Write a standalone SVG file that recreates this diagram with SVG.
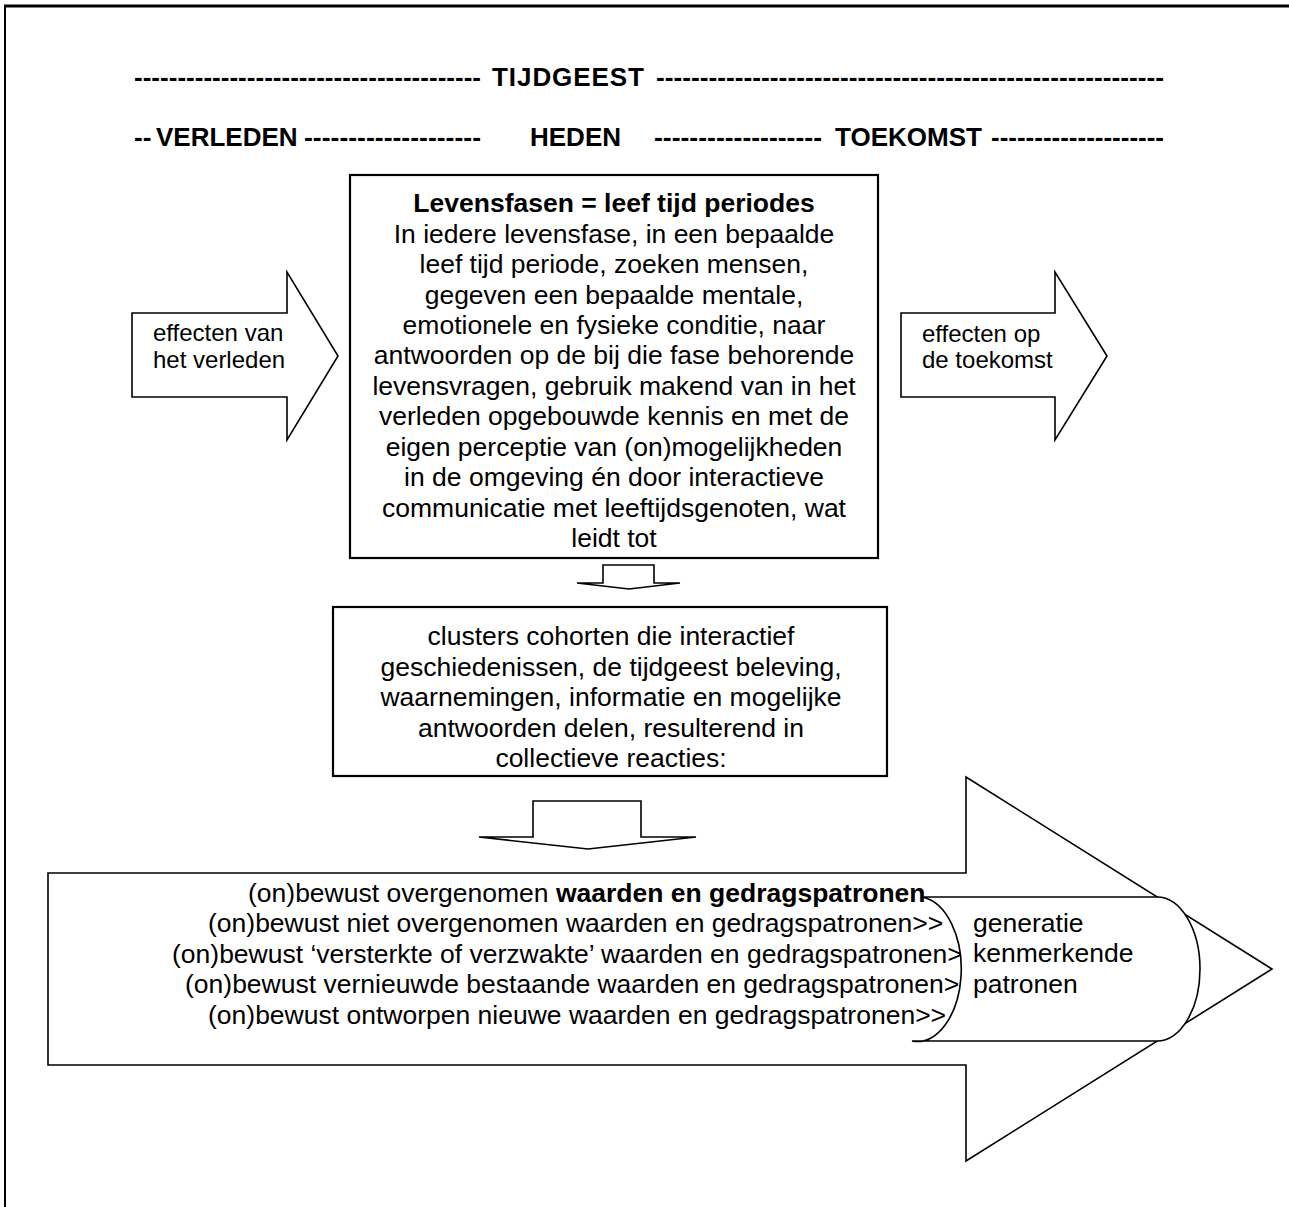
<svg xmlns="http://www.w3.org/2000/svg" width="1289" height="1207" viewBox="0 0 1289 1207">
<style>
text{font-family:"Liberation Sans",Arial,sans-serif;fill:#000}
.hd{font-size:26px;font-weight:bold}
.bd{font-size:26.5px}
.sm{font-size:24px}
.b{font-weight:bold}
.shape{fill:#fff;stroke:#000;stroke-width:1.6;stroke-linejoin:miter}
.box{fill:#fff;stroke:#000;stroke-width:2.2}
.frame{stroke:#000;fill:none}
</style>
<rect width="1289" height="1207" fill="#fff"/>
<g id="frame">
<line class="frame" x1="4" y1="6" x2="1289" y2="6" stroke-width="3"/>
<line class="frame" x1="5" y1="5" x2="5" y2="1207" stroke-width="2"/>
</g>
<g id="header">
<text class="hd" y="86"><tspan x="134" textLength="347" lengthAdjust="spacingAndGlyphs">----------------------------------------</tspan><tspan x="492" textLength="152" lengthAdjust="spacing">TIJDGEEST</tspan><tspan x="656" textLength="508" lengthAdjust="spacingAndGlyphs">----------------------------------------------------------</tspan></text>
<text class="hd" y="146"><tspan x="134">--</tspan><tspan x="156">VERLEDEN</tspan><tspan x="304" textLength="177" lengthAdjust="spacingAndGlyphs">--------------------</tspan><tspan x="530">HEDEN</tspan><tspan x="654" textLength="168" lengthAdjust="spacingAndGlyphs">-------------------</tspan><tspan x="835">TOEKOMST</tspan><tspan x="991" textLength="173" lengthAdjust="spacingAndGlyphs">--------------------</tspan></text>
</g>
<g id="node-past">
<polygon class="shape" points="132,313 287,313 287,272 338,356 287,440 287,397 132,397"/>
<text class="sm" x="153" y="341">effecten van</text>
<text class="sm" x="153" y="368">het verleden</text>
</g>
<g id="node-future">
<polygon class="shape" points="901,313 1055,313 1055,272 1107,356 1055,440 1055,397 901,397"/>
<text class="sm" x="922" y="342">effecten op</text>
<text class="sm" x="922" y="368">de toekomst</text>
</g>
<g id="node-levensfasen">
<rect class="box" x="350" y="175" width="528" height="383"/>
<g class="bd" text-anchor="middle">
<text x="614" y="212" class="b">Levensfasen = leef tijd periodes</text>
<text x="614" y="242.5">In iedere levensfase, in een bepaalde</text>
<text x="614" y="273">leef tijd periode, zoeken mensen,</text>
<text x="614" y="303.5">gegeven een bepaalde mentale,</text>
<text x="614" y="334">emotionele en fysieke conditie, naar</text>
<text x="614" y="364">antwoorden op de bij die fase behorende</text>
<text x="614" y="394.5">levensvragen, gebruik makend van in het</text>
<text x="614" y="425">verleden opgebouwde kennis en met de</text>
<text x="614" y="455.5">eigen perceptie van (on)mogelijkheden</text>
<text x="614" y="486">in de omgeving én door interactieve</text>
<text x="614" y="516.5">communicatie met leeftijdsgenoten, wat</text>
<text x="614" y="547">leidt tot</text>
</g>
</g>
<g id="node-clusters">
<rect class="box" x="333" y="607" width="554" height="169"/>
<g class="bd" text-anchor="middle">
<text x="611" y="645">clusters cohorten die interactief</text>
<text x="611" y="676">geschiedenissen, de tijdgeest beleving,</text>
<text x="611" y="706">waarnemingen, informatie en mogelijke</text>
<text x="611" y="737">antwoorden delen, resulterend in</text>
<text x="611" y="767">collectieve reacties:</text>
</g>
</g>
<g id="connectors">
<polygon class="shape" points="603,565 654,565 654,583 680,583 629,589 577,583 603,583"/>
<polygon class="shape" points="533,801 641,801 641,837 696,837 588,849 479,837 533,837"/>
</g>
<g id="node-patronen">
<polygon class="shape" points="48,873 966,873 966,777 1272,969 966,1161 966,1065 48,1065"/>
<g class="bd">
<text x="248" y="902">(on)bewust overgenomen <tspan class="b">waarden en gedragspatronen</tspan></text>
<text x="208" y="932">(on)bewust niet overgenomen waarden en gedragspatronen&gt;&gt;</text>
<text x="172" y="963">(on)bewust ‘versterkte of verzwakte’ waarden en gedragspatronen&gt;&gt;</text>
<text x="185" y="993">(on)bewust vernieuwde bestaande waarden en gedragspatronen&gt;&gt;</text>
<text x="208" y="1024">(on)bewust ontworpen nieuwe waarden en gedragspatronen&gt;&gt;</text>
</g>
</g>
<g id="node-generatie">
<path class="shape" d="M922,897 L1157,897 A43,72 0 0 1 1157,1041 L912,1041 A44,72 0 0 0 922,897 Z"/>
<g class="bd">
<text x="973" y="932">generatie</text>
<text x="973" y="962">kenmerkende</text>
<text x="973" y="993">patronen</text>
</g>
</g>
</svg>
